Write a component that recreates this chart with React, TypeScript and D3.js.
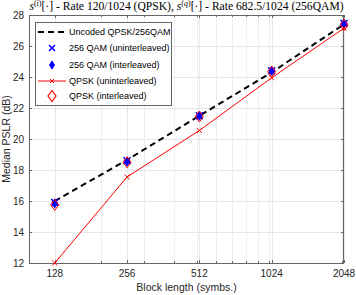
import React, { useEffect, useRef } from 'react';
import * as d3 from 'd3';

const blockLengths = [128, 256, 512, 1024, 2048];
const uncoded = [16.0, 18.65, 21.5, 24.3, 27.4];
const qam256Uninterleaved = [15.9, 18.6, 21.5, 24.4, 27.45];
const qam256Interleaved = [15.85, 18.55, 21.5, 24.4, 27.45];
const qpskUninterleaved = [12.0, 17.55, 20.55, 23.95, 27.15];
const qpskInterleaved = [15.75, 18.5, 21.45, 24.35, 27.35];
const yTicks = [12, 14, 16, 18, 20, 22, 24, 26, 28];
const xMinorTicks = [200, 300, 400, 500, 600, 700, 800, 900, 1000, 2000];
const legendLabels = [
  'Uncoded QPSK/256QAM',
  '256 QAM (uninterleaved)',
  '256 QAM (interleaved)',
  'QPSK (uninterleaved)',
  'QPSK (interleaved)'
];

const W = 356;
const H = 295;
const sans = 'Liberation Sans, Arial, Helvetica, sans-serif';

const App: React.FC = () => {
  const svgRef = useRef<SVGSVGElement>(null);

  useEffect(() => {
    if (!svgRef.current) return;
    const svg = d3.select(svgRef.current);
    svg.selectAll('*').remove();

    const left = 29, right = 344, top = 15, bottom = 263;

    const x = d3.scaleLog().domain([100, 2048]).range([left, right]);
    const y = d3.scaleLinear().domain([12, 28]).range([bottom, top]);

    svg.append('rect').attr('width', W).attr('height', H).attr('fill', '#fff');

    // grid
    const grid = svg.append('g').attr('stroke', '#e6e6e6').attr('stroke-width', 1);
    xMinorTicks.forEach(t => {
      const px = Math.round(x(t)) + 0.5;
      grid.append('line').attr('x1', px).attr('x2', px).attr('y1', top).attr('y2', bottom)
        .attr('stroke', '#eeeeee');
    });
    blockLengths.forEach(t => {
      const px = Math.round(x(t)) + 0.5;
      grid.append('line').attr('x1', px).attr('x2', px).attr('y1', top).attr('y2', bottom);
    });
    yTicks.forEach(t => {
      const py = Math.round(y(t)) + 0.5;
      grid.append('line').attr('x1', left).attr('x2', right).attr('y1', py).attr('y2', py);
    });

    // ticks (inward)
    const tk = svg.append('g').attr('stroke', '#666').attr('stroke-width', 1);
    yTicks.forEach(t => {
      const py = Math.round(y(t)) + 0.5;
      tk.append('line').attr('x1', left).attr('x2', left + 3).attr('y1', py).attr('y2', py);
      tk.append('line').attr('x1', right - 3).attr('x2', right).attr('y1', py).attr('y2', py);
    });
    blockLengths.forEach(t => {
      const px = Math.round(x(t)) + 0.5;
      tk.append('line').attr('x1', px).attr('x2', px).attr('y1', bottom).attr('y2', bottom - 3);
      tk.append('line').attr('x1', px).attr('x2', px).attr('y1', top).attr('y2', top + 3);
    });
    xMinorTicks.forEach(t => {
      const px = Math.round(x(t)) + 0.5;
      tk.append('line').attr('x1', px).attr('x2', px).attr('y1', bottom).attr('y2', bottom - 2);
      tk.append('line').attr('x1', px).attr('x2', px).attr('y1', top).attr('y2', top + 2);
    });

    // box
    svg.append('rect')
      .attr('x', left + 0.5).attr('y', top + 0.5)
      .attr('width', right - left - 1).attr('height', bottom - top)
      .attr('fill', 'none').attr('stroke', '#666').attr('stroke-width', 1);

    // tick labels
    svg.append('g').selectAll('text').data(yTicks).enter().append('text')
      .attr('x', left - 5).attr('y', d => y(d) + 3.5)
      .attr('text-anchor', 'end').attr('font-family', sans).attr('font-size', 10)
      .attr('fill', '#262626').text(d => d);
    svg.append('g').selectAll('text').data(blockLengths).enter().append('text')
      .attr('x', d => x(d)).attr('y', bottom + 14)
      .attr('text-anchor', 'middle').attr('font-family', sans).attr('font-size', 10)
      .attr('fill', '#262626').text(d => d);

    // axis titles
    svg.append('text')
      .attr('x', (left + right) / 2).attr('y', 291)
      .attr('text-anchor', 'middle').attr('font-family', sans).attr('font-size', 10.5)
      .attr('fill', '#262626').text('Block length (symbs.)');
    svg.append('text')
      .attr('transform', `translate(10,${(top + bottom) / 2}) rotate(-90)`)
      .attr('text-anchor', 'middle').attr('font-family', sans).attr('font-size', 10.5)
      .attr('fill', '#262626').text('Median PSLR (dB)');

    // title
    const title = svg.append('text')
      .attr('x', (left + right) / 2).attr('y', 10)
      .attr('text-anchor', 'middle').attr('font-family', 'Liberation Serif, DejaVu Serif, serif')
      .attr('font-size', 11.6).attr('fill', '#000');
    const addSig = (sup: string) => {
      title.append('tspan').attr('font-style', 'italic').text('s');
      title.append('tspan').attr('font-size', 8).attr('dy', -4).text('(');
      title.append('tspan').attr('font-size', 8).attr('font-style', 'italic').text(sup);
      title.append('tspan').attr('font-size', 8).text(')');
      title.append('tspan').attr('dy', 4).text('[·]');
    };
    addSig('i');
    title.append('tspan').text(' - Rate 120/1024 (QPSK), ');
    addSig('q');
    title.append('tspan').text(' - Rate 682.5/1024 (256QAM)');

    const plot = svg.append('g');
    const pts = (vals: number[]) => blockLengths.map((b, i) => [x(b), y(vals[i])] as [number, number]);
    const line = d3.line<[number, number]>();

    const diamond = (g: d3.Selection<SVGGElement, unknown, null, undefined>, cx: number, cy: number, w: number, h: number) =>
      g.append('path').attr('d', `M${cx},${cy - h}L${cx + w},${cy}L${cx},${cy + h}L${cx - w},${cy}Z`);
    const cross = (g: d3.Selection<SVGGElement, unknown, null, undefined>, cx: number, cy: number, r: number) =>
      g.append('path').attr('d', `M${cx - r},${cy - r}L${cx + r},${cy + r}M${cx - r},${cy + r}L${cx + r},${cy - r}`);

    // uncoded dashed
    plot.append('path').attr('d', line(pts(uncoded)))
      .attr('fill', 'none').attr('stroke', '#000').attr('stroke-width', 2)
      .attr('stroke-dasharray', '6,4');

    // 256 QAM uninterleaved (blue x)
    const g1 = plot.append('g').attr('stroke', '#0000ff').attr('stroke-width', 1.5).attr('fill', 'none');
    pts(qam256Uninterleaved).forEach(([cx, cy]) => cross(g1, cx, cy, 3.5));

    // 256 QAM interleaved (blue filled diamond)
    const g2 = plot.append('g').attr('stroke', '#0000ff').attr('stroke-width', 1).attr('fill', '#0000ff');
    pts(qam256Interleaved).forEach(([cx, cy]) => diamond(g2, cx, cy, 3, 4.5));

    // QPSK uninterleaved (red line with x)
    plot.append('path').attr('d', line(pts(qpskUninterleaved)))
      .attr('fill', 'none').attr('stroke', '#ff0000').attr('stroke-width', 1);
    const g3 = plot.append('g').attr('stroke', '#ff0000').attr('stroke-width', 1).attr('fill', 'none');
    pts(qpskUninterleaved).forEach(([cx, cy]) => cross(g3, cx, cy, 2.5));

    // QPSK interleaved (red open diamond)
    const g4 = plot.append('g').attr('stroke', '#ff0000').attr('stroke-width', 1).attr('fill', 'none');
    pts(qpskInterleaved).forEach(([cx, cy]) => diamond(g4, cx, cy, 4, 5.5));

    // legend
    const lg = svg.append('g');
    lg.append('rect').attr('x', 35.5).attr('y', 22.5).attr('width', 136).attr('height', 83)
      .attr('fill', '#fff').attr('stroke', '#666').attr('stroke-width', 1);
    const rows = [32, 48, 65, 81, 96];
    const lx0 = 38, lx1 = 66, mx = 52;
    lg.append('line').attr('x1', lx0).attr('x2', lx1).attr('y1', rows[0]).attr('y2', rows[0])
      .attr('stroke', '#000').attr('stroke-width', 2).attr('stroke-dasharray', '6,4');
    const l1 = lg.append('g').attr('stroke', '#0000ff').attr('stroke-width', 1.5).attr('fill', 'none');
    cross(l1, mx, rows[1], 3);
    const l2 = lg.append('g').attr('stroke', '#0000ff').attr('fill', '#0000ff');
    diamond(l2, mx, rows[2], 2.5, 4);
    lg.append('line').attr('x1', lx0).attr('x2', lx1).attr('y1', rows[3]).attr('y2', rows[3])
      .attr('stroke', '#ff0000').attr('stroke-width', 1);
    const l3 = lg.append('g').attr('stroke', '#ff0000').attr('fill', 'none');
    cross(l3, mx, rows[3], 2);
    const l4 = lg.append('g').attr('stroke', '#ff0000').attr('stroke-width', 1.2).attr('fill', 'none');
    diamond(l4, mx, rows[4], 4, 5.5);
    lg.selectAll('text.lab').data(legendLabels).enter().append('text')
      .attr('x', 69).attr('y', (_, i) => rows[i] + 3.2)
      .attr('font-family', sans).attr('font-size', 9).attr('fill', '#000')
      .text(d => d);
  }, []);

  return (
    <svg ref={svgRef} width={W} height={H}
      style={{ position: 'absolute', left: 0, top: 0, display: 'block' }} />
  );
};

export default App;
